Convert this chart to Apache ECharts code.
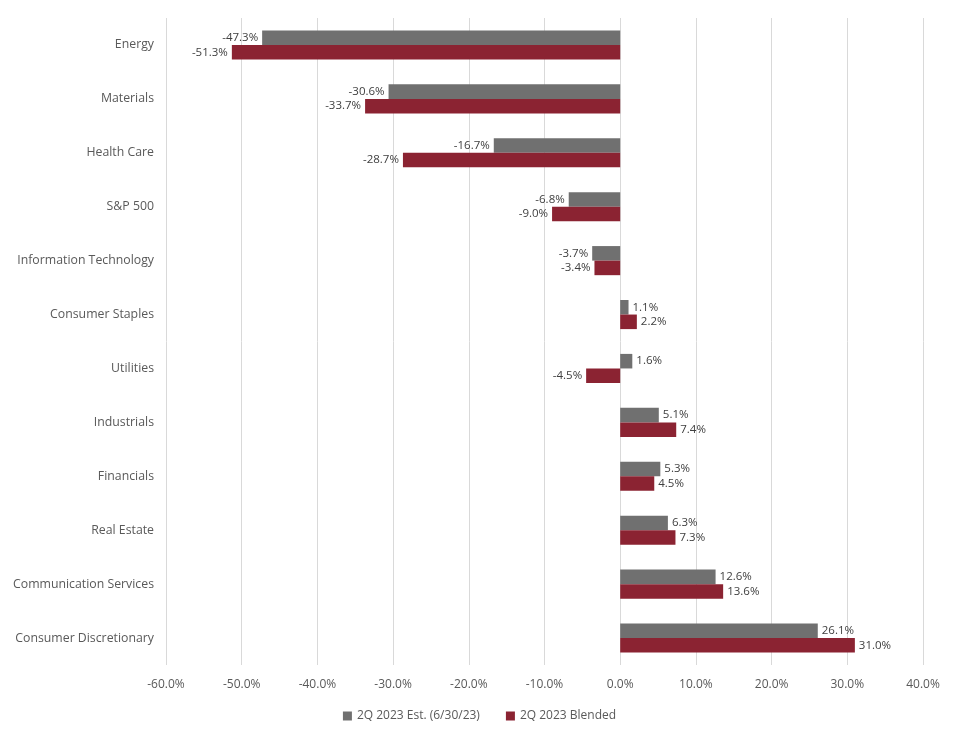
<!DOCTYPE html>
<html><head><meta charset="utf-8">
<script src="https://cdn.jsdelivr.net/npm/echarts@6/dist/echarts.min.js"></script>
<style>html,body{margin:0;padding:0;background:#fff}#c{width:959px;height:739px}</style>
</head><body><div id="c"></div>
<script>
var categories = ["Energy","Materials","Health Care","S&P 500","Information Technology","Consumer Staples","Utilities","Industrials","Financials","Real Estate","Communication Services","Consumer Discretionary"];
var estValues = [-47.3,-30.6,-16.7,-6.8,-3.7,1.1,1.6,5.1,5.3,6.3,12.6,26.1];
var blendedValues = [-51.3,-33.7,-28.7,-9.0,-3.4,2.2,-4.5,7.4,4.5,7.3,13.6,31.0];
var seriesNames = ["2Q 2023 Est. (6/30/23)","2Q 2023 Blended"];
var FONT = "Open Sans";
function mk(vals){
  return vals.map(function(v){
    return {value:v, label:{position: v<0 ? 'left' : 'right'}};
  });
}
var chart = echarts.init(document.getElementById('c'), null, {renderer:'canvas'});
chart.setOption({
  animation:false,
  textStyle:{fontFamily:FONT},
  legend:{
    bottom:12, left:'center', itemWidth:9, itemHeight:9, itemGap:26, icon:'rect',
    textStyle:{fontFamily:FONT,fontSize:12,color:'#595959'},
    data:seriesNames
  },
  grid:{left:166,right:36,top:18,bottom:74,containLabel:false},
  xAxis:{
    type:'value', min:-60, max:40, interval:10,
    axisLine:{show:false}, axisTick:{show:false},
    splitLine:{lineStyle:{color:'#d9d9d9',width:1}},
    axisLabel:{formatter:function(v){return v.toFixed(1)+'%';},fontFamily:FONT,fontSize:12,color:'#595959',margin:14}
  },
  yAxis:{
    type:'category', data:categories, inverse:true,
    axisLine:{show:false}, axisTick:{show:false},
    axisLabel:{fontFamily:FONT,fontSize:12.3,color:'#595959',margin:12}
  },
  series:[
    {name:seriesNames[0], type:'bar', data:mk(estValues), barGap:'0%', barCategoryGap:'46%',
     itemStyle:{color:'#707070'},
     label:{show:true, formatter:function(p){return p.value.toFixed(1)+'%';}, fontFamily:FONT, fontSize:11.5, color:'#404040', distance:4}},
    {name:seriesNames[1], type:'bar', data:mk(blendedValues), barGap:'0%', barCategoryGap:'46%',
     itemStyle:{color:'#8b2332'},
     label:{show:true, formatter:function(p){return p.value.toFixed(1)+'%';}, fontFamily:FONT, fontSize:11.5, color:'#404040', distance:4}}
  ]
});
</script></body></html>
